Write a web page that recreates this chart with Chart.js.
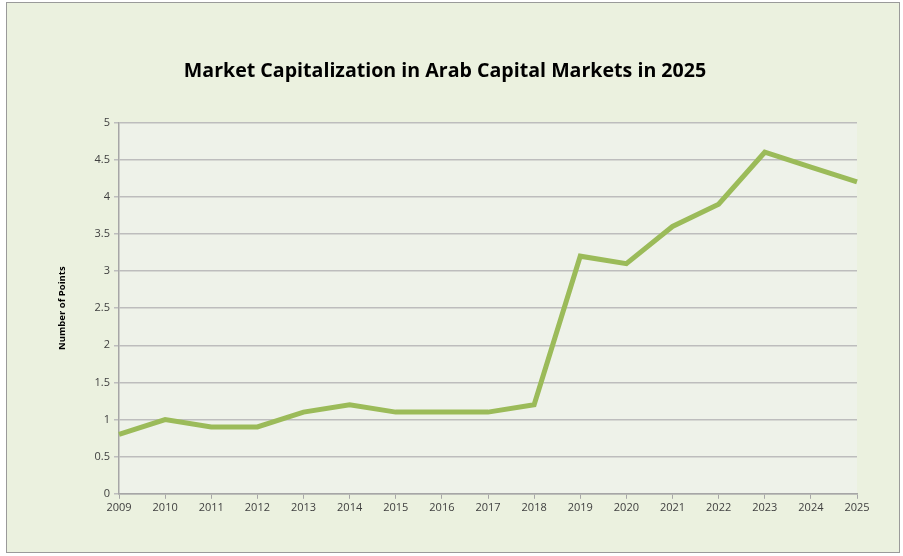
<!DOCTYPE html>
<html>
<head>
<meta charset="utf-8">
<script src="https://cdn.jsdelivr.net/npm/chart.js@4/dist/chart.umd.min.js"></script>
<style>
  html, body { margin: 0; padding: 0; background: #fff; }
  #wrap {
    position: absolute; left: 6px; top: 2px; width: 894px; height: 551px;
    background: #ebf1df; border: 1px solid #9a9a9a; box-sizing: border-box;
  }
  canvas { display: block; }
</style>
</head>
<body>
<div id="wrap"><canvas id="lineChart" width="894" height="551"></canvas></div>
<script>
var years = ['2009', '2010', '2011', '2012', '2013', '2014', '2015', '2016', '2017',
             '2018', '2019', '2020', '2021', '2022', '2023', '2024', '2025'];
var points = [0.8, 1.0, 0.9, 0.9, 1.1, 1.2, 1.1, 1.1, 1.1,
              1.2, 3.2, 3.1, 3.6, 3.9, 4.6, 4.4, 4.2];

// fills the plot area with its own slightly lighter tint
var plotBg = {
    id: 'plotBg',
    beforeDraw: function (chart) {
        var a = chart.chartArea, ctx = chart.ctx;
        ctx.save();
        ctx.fillStyle = '#eef2e9';
        ctx.fillRect(a.left, a.top, a.right - a.left, a.bottom - a.top);
        ctx.restore();
    }
};

new Chart(document.getElementById('lineChart'), {
    type: 'line',
    data: {
        labels: years,
        datasets: [{
            label: 'Number of Points',
            data: points,
            borderColor: '#9bbb59',
            borderWidth: 5,
            pointRadius: 0,
            tension: 0,
            fill: false
        }]
    },
    options: {
        responsive: false,
        animation: false,
        devicePixelRatio: 1,
        layout: { padding: { left: 26, right: 44, top: 57, bottom: 38 } },
        plugins: {
            legend: { display: false },
            tooltip: { enabled: false },
            title: {
                display: true,
                text: 'Market Capitalization in Arab Capital Markets in 2025',
                color: '#000',
                font: { family: 'Open Sans', size: 19.6, weight: 'bold' },
                padding: { top: 0, bottom: 39 }
            }
        },
        scales: {
            x: {
                offset: false,
                grid: { drawOnChartArea: false, color: '#a6a6a6', tickLength: 5, lineWidth: 1 },
                border: { color: '#a6a6a6', width: 1.5 },
                ticks: { color: '#404040', font: { family: 'Open Sans', size: 11 }, maxRotation: 0, autoSkip: false, padding: 2 }
            },
            y: {
                min: 0,
                max: 5,
                afterFit: function (scale) { scale.width = 86; },
                ticks: {
                    stepSize: 0.5,
                    color: '#404040',
                    font: { family: 'Open Sans', size: 11 },
                    padding: 4,
                    callback: function (v) { return String(Math.round(v * 10) / 10); }
                },
                grid: { color: '#bdbdbd', lineWidth: 1.5, tickLength: 5 },
                border: { color: '#a6a6a6', width: 1.5 },
                title: {
                    display: true,
                    text: 'Number of Points',
                    color: '#000',
                    font: { family: 'Open Sans', size: 9.5, weight: 'bold' },
                    padding: { top: 24, bottom: 0 }
                }
            }
        }
    },
    plugins: [plotBg]
});
</script>
</body>
</html>
